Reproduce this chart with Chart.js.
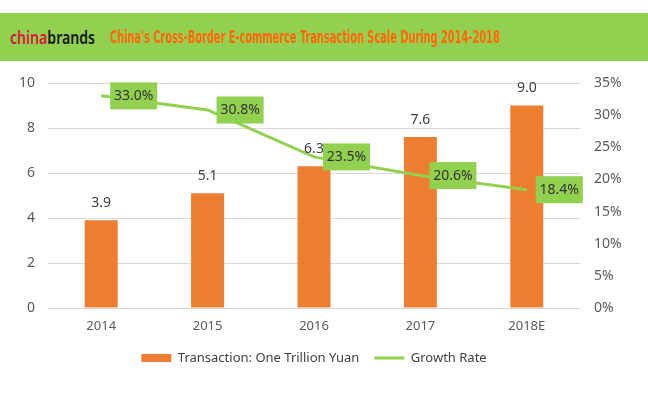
<!DOCTYPE html>
<html>
<head>
<meta charset="utf-8">
<script src="https://cdn.jsdelivr.net/npm/chart.js@4"></script>
<style>
  html,body{margin:0;padding:0;background:#fff;width:648px;height:394px;overflow:hidden;}
  #wrap{position:absolute;left:0;top:0;width:648px;height:394px;}
  #hdr{position:absolute;left:0;top:13px;width:648px;height:48px;background:#92D050;z-index:2;}
  #logo{position:absolute;left:10px;top:12px;font-family:"Noto Sans",Lato,sans-serif;font-weight:600;font-size:18px;line-height:24px;white-space:nowrap;transform-origin:0 50%;}
  #logo .a{color:#D8163C;}
  #logo .b{color:#161616;}
  #title{position:absolute;left:110px;top:11px;font-family:"DejaVu Sans Condensed","Liberation Sans Narrow",sans-serif;font-stretch:condensed;font-weight:700;font-size:18px;line-height:26px;color:#FF6A0D;white-space:nowrap;transform-origin:0 50%;}
</style>
</head>
<body>
<div id="wrap"><canvas id="c" width="648" height="394"></canvas></div>
<div id="hdr"><span id="logo"><span class="a">china</span><span class="b">brands</span></span><span id="title">China's Cross-Border E-commerce Transaction Scale During 2014-2018</span></div>
<script>
const categories = ["2014", "2015", "2016", "2017", "2018E"];
const transaction = [3.9, 5.1, 6.3, 7.6, 9.0];
const growthRate = [33.0, 30.8, 23.5, 20.6, 18.4];
const leftTicks = [0, 2, 4, 6, 8, 10];
const rightTicks = [0, 5, 10, 15, 20, 25, 30, 35];
const seriesNames = ["Transaction: One Trillion Yuan", "Growth Rate"];

function fitWidth(id, w){
  const el = document.getElementById(id);
  const r = el.getBoundingClientRect().width;
  el.style.transform = 'scaleX(' + (w / r) + ')';
}
fitWidth('logo', 85);
fitWidth('title', 390);

const ORANGE = '#ED7D31';
const GREEN = '#92D050';
const FONT = '"Noto Sans", "Open Sans", sans-serif';

const labelPlugin = {
  id: 'valueLabels',
  afterDatasetsDraw(chart){
    const ctx = chart.ctx;
    ctx.save();
    const barMeta = chart.getDatasetMeta(0);
    ctx.font = '14px ' + FONT;
    ctx.fillStyle = '#404040';
    ctx.textAlign = 'center';
    ctx.textBaseline = 'middle';
    barMeta.data.forEach((el, i) => {
      ctx.fillText(transaction[i].toFixed(1), el.x, el.y - 17);
    });
    const lineMeta = chart.getDatasetMeta(1);
    lineMeta.data.forEach((el, i) => {
      const txt = growthRate[i].toFixed(1) + '%';
      const w = 47, h = 27;
      const x0 = el.x + 9, y0 = el.y - h / 2;
      ctx.fillStyle = GREEN;
      ctx.fillRect(x0, y0, w, h);
      ctx.fillStyle = '#333333';
      ctx.fillText(txt, x0 + w / 2, el.y + 0.5);
    });
    ctx.restore();
  }
};

new Chart(document.getElementById('c'), {
  data: {
    labels: categories,
    datasets: [
      {
        type: 'bar',
        label: seriesNames[0],
        data: transaction,
        backgroundColor: ORANGE,
        borderWidth: 0,
        yAxisID: 'y',
        order: 1,
        categoryPercentage: 1,
        barPercentage: 0.31
      },
      {
        type: 'line',
        label: seriesNames[1],
        data: growthRate,
        borderColor: GREEN,
        backgroundColor: GREEN,
        borderWidth: 3,
        pointRadius: 0,
        tension: 0,
        yAxisID: 'y1',
        order: 0
      }
    ]
  },
  options: {
    responsive: false,
    animation: false,
    devicePixelRatio: 1,
    layout: { padding: { top: 83, left: 0, right: 20, bottom: 19.5 } },
    plugins: {
      tooltip: { enabled: false },
      legend: {
        position: 'bottom',
        labels: {
          font: { family: FONT, size: 13 },
          color: '#404040',
          usePointStyle: true,
          pointStyleWidth: 30,
          boxHeight: 8,
          padding: 15,
          sort: (a, b) => a.datasetIndex - b.datasetIndex,
          generateLabels(chart){
            const items = Chart.defaults.plugins.legend.labels.generateLabels(chart);
            items.forEach(it => {
              if (it.datasetIndex === 0) {
                it.pointStyle = 'rect'; it.lineWidth = 0; it.fillStyle = ORANGE; it.strokeStyle = ORANGE;
              } else {
                it.pointStyle = 'line'; it.lineWidth = 3; it.strokeStyle = GREEN; it.fillStyle = GREEN;
              }
            });
            return items;
          }
        }
      }
    },
    scales: {
      x: {
        grid: { display: false, drawTicks: false },
        border: { display: false },
        ticks: { font: { family: FONT, size: 13 }, color: '#595959', padding: 10 },
        afterFit(s){ s.height = 28.5; }
      },
      y: {
        position: 'left',
        min: 0, max: 10,
        afterBuildTicks(s){ s.ticks = leftTicks.map(v => ({ value: v })); },
        grid: { color: '#D9D9D9', lineWidth: 1, drawTicks: false },
        border: { display: false },
        ticks: { font: { family: FONT, size: 14 }, color: '#595959', padding: 13 },
        afterFit(s){ s.width = 48; }
      },
      y1: {
        position: 'right',
        min: 0, max: 35,
        afterBuildTicks(s){ s.ticks = rightTicks.map(v => ({ value: v })); },
        grid: { display: false, drawTicks: false },
        border: { display: false },
        ticks: { font: { family: FONT, size: 14 }, color: '#595959', padding: 14, callback: v => v + '%' },
        afterFit(s){ s.width = 48; }
      }
    }
  },
  plugins: [labelPlugin]
});
</script>
</body>
</html>
